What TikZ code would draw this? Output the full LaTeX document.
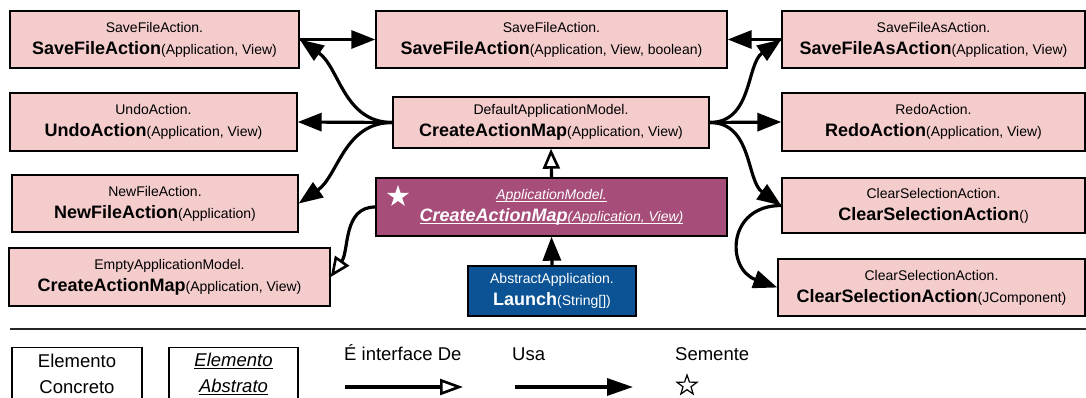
\documentclass[tikz,border=0pt]{standalone}
\usepackage{fontspec}
\setmainfont{Liberation Sans}
\usetikzlibrary{arrows.meta,shapes.geometric}

\definecolor{boxpink}{HTML}{F4CCCC}
\definecolor{abstractpurple}{HTML}{A64D79}
\definecolor{launchblue}{HTML}{0B5394}

% text sizes used inside the method boxes
\newcommand{\mthsmall}{\fontsize{14}{22}\selectfont}
\newcommand{\mthbig}{\fontsize{18}{22}\selectfont\bfseries}
% class name on the first line, bold method name plus arguments on the second
\newcommand{\mth}[3]{#1\\{\mthbig #2}{\mthsmall #3}}
% underlined text, rule drawn in the current colour
\newcommand{\undertext}[1]{\setbox0\hbox{#1}\rlap{\rule[-2.2pt]{\wd0}{0.9pt}}\box0}

\tikzset{
  x=1pt, y=-1pt,
  method/.style={draw=black, line width=1.4pt, fill=boxpink, align=center,
                 inner sep=0pt, font=\mthsmall},
  uses/.style={line width=3.2pt, -{Triangle[length=24pt,width=18pt]}},
  implements/.style={line width=3.2pt,
                     -{Triangle[open,length=20pt,width=17pt,line width=2.6pt]}},
  legendbox/.style={draw=black, line width=1.2pt, align=center, inner sep=0pt,
                    minimum width=130pt, minimum height=53pt,
                    font=\fontsize{18.5}{26}\selectfont},
  legendtext/.style={anchor=base west, inner sep=0pt,
                     font=\fontsize{18.5}{22}\selectfont},
}

\begin{document}
\begin{tikzpicture}
\clip (0,0) rectangle (1086,398);

% ---- method boxes ----
\node[method, minimum width=289pt, minimum height=57pt] (sfa) at (154.5,39.5)
  {\mth{SaveFileAction.}{SaveFileAction}{(Application, View)}};
\node[method, minimum width=351pt, minimum height=57pt] (sfab) at (551.5,39.5)
  {\mth{SaveFileAction.}{SaveFileAction}{(Application, View, boolean)}};
\node[method, minimum width=303pt, minimum height=57pt] (sfaa) at (933.5,39.5)
  {\mth{SaveFileAsAction.}{SaveFileAsAction}{(Application, View)}};

\node[method, minimum width=287pt, minimum height=58pt] (undo) at (153.5,122)
  {\mth{UndoAction.}{UndoAction}{(Application, View)}};
\node[method, minimum width=316pt, minimum height=51pt] (dam) at (551,122.5)
  {\mth{DefaultApplicationModel.}{CreateActionMap}{(Application, View)}};
\node[method, minimum width=303pt, minimum height=58pt] (redo) at (933.5,122)
  {\mth{RedoAction.}{RedoAction}{(Application, View)}};

\node[method, minimum width=286pt, minimum height=57pt] (newf) at (155,203.5)
  {\mth{NewFileAction.}{NewFileAction}{(Application)}};
\node[method, fill=abstractpurple, text=white, minimum width=351pt, minimum height=58pt]
  (am) at (551.5,207)
  {\undertext{\itshape ApplicationModel.}\\%
   \undertext{\mthbig\itshape CreateActionMap}\undertext{\itshape (Application, View)}};
\node[star, star points=5, star point ratio=2.6, fill=white, inner sep=0pt,
      minimum size=23pt] (seed) at (398,196.5) {};
\node[method, minimum width=303pt, minimum height=55pt] (csa) at (933.5,205.5)
  {\mth{ClearSelectionAction.}{ClearSelectionAction}{()}};

\node[method, minimum width=321pt, minimum height=58pt] (empty) at (169.5,277)
  {\mth{EmptyApplicationModel.}{CreateActionMap}{(Application, View)}};
\node[method, fill=launchblue, text=white, minimum width=168pt, minimum height=50pt]
  (launch) at (552,291)
  {\mth{AbstractApplication.}{Launch}{(String[])}};
\node[method, minimum width=307pt, minimum height=57pt] (csaj) at (931.5,287.5)
  {\mth{ClearSelectionAction.}{ClearSelectionAction}{(JComponent)}};

% ---- connectors ----
\draw[uses] (sfa.east) -- (sfab.west);
\draw[uses] (sfaa.west) -- (sfab.east);
\draw[uses] (dam.west) to[out=180,in=-35] (sfa.east);
\draw[uses] (dam.west) -- (undo.east);
\draw[uses] (dam.west) to[out=180,in=35] (newf.east);
\draw[uses] (dam.east) to[out=0,in=-145] (sfaa.west);
\draw[uses] (dam.east) -- (redo.west);
\draw[uses] (dam.east) to[out=0,in=145] (csa.west);
\draw[uses] (csa.west) to[out=180,in=160,looseness=1.7] (csaj.west);
\draw[implements] (am.north) -- (dam.south);
\draw[uses] (launch.north) -- (am.south);
\draw[implements] (am.west) to[out=180,in=55] (empty.east);

% ---- legend ----
\coordinate (sepL) at (10,329);
\coordinate (sepR) at (1086,329);
\draw[line width=2pt, black!85] (sepL) -- (sepR);

\node[legendbox, anchor=north] (lgconc) at (77,347) {Elemento\\Concreto};
\node[legendbox, anchor=north, minimum width=129pt] (lgabs) at (233.5,347)
  {\undertext{\itshape Elemento}\\\undertext{\itshape Abstrato}};

\node[legendtext] (lgimpl) at (344,360) {É interface De};
\coordinate (implA) at (345,387);
\coordinate (implB) at (463,387);
\draw[line width=3.2pt, -{Triangle[open,length=23pt,width=16pt,line width=2.6pt]}]
  (implA) -- (implB);

\node[legendtext] (lguses) at (512,360) {Usa};
\coordinate (usesA) at (515,387);
\coordinate (usesB) at (633,387);
\draw[line width=3.2pt, -{Triangle[length=26pt,width=17pt]}] (usesA) -- (usesB);

\node[legendtext] (lgseed) at (675,360) {Semente};
\node[star, star points=5, star point ratio=2.5, draw=black, line width=1.2pt,
      inner sep=0pt, minimum size=21pt] (lgstar) at (687,385.5) {};
\end{tikzpicture}
\end{document}
